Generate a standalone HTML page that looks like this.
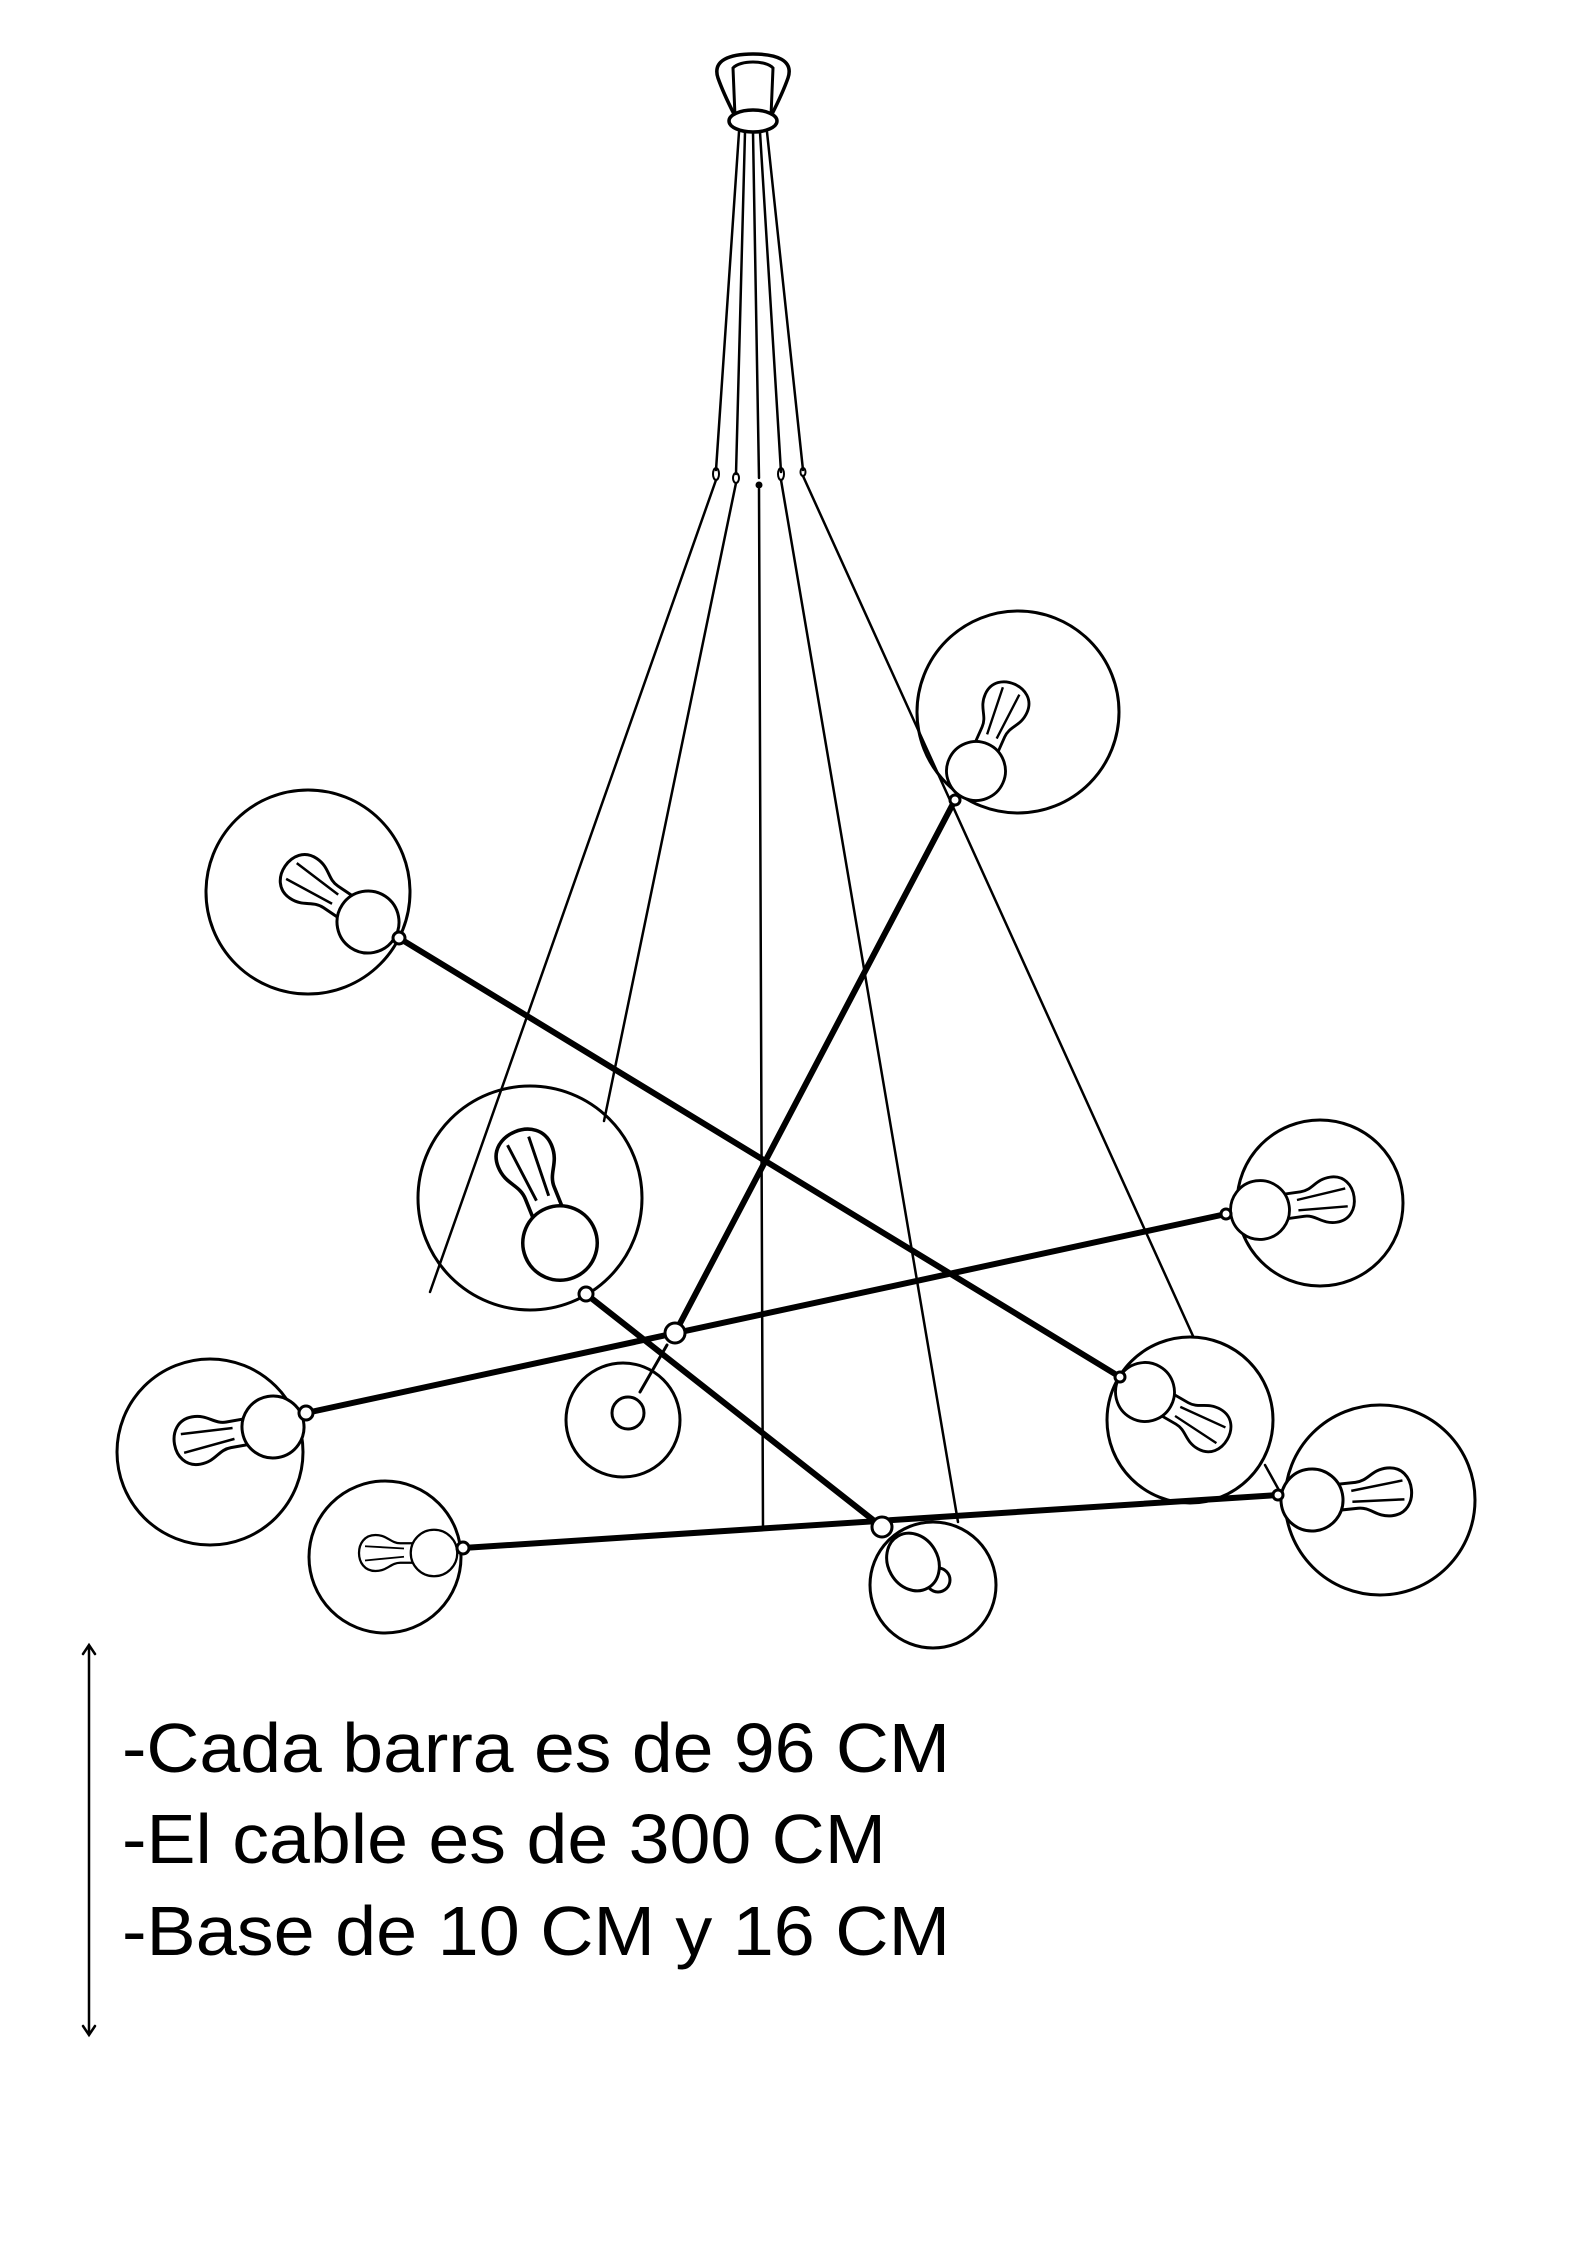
<!DOCTYPE html>
<html><head><meta charset="utf-8"><style>
html,body{margin:0;padding:0;background:#fff}
svg{display:block}
</style></head><body>
<svg width="1587" height="2245" viewBox="0 0 1587 2245" xmlns="http://www.w3.org/2000/svg">
<defs>
<g id="bulb">
<path d="M18,-13 L45,-13 C58,-13 62,-24 78,-24 C93,-24 100,-12 100,0 C100,12 93,24 78,24 C62,24 58,13 45,13 L18,13 Z" fill="#fff" stroke="#000" stroke-width="3"/>
<path d="M40,-5 L92,-10 M40,6 L92,9" fill="none" stroke="#000" stroke-width="2.5"/>
<circle cx="0" cy="0" r="31" fill="#fff" stroke="#000" stroke-width="3"/>
</g>
</defs>
<g fill="none" stroke="#000" stroke-linecap="round">
<!-- canopy -->
<path d="M718,78 C712,60 730,54 753,54 C776,54 794,60 788,78 C782,95 775,108 770,118 L736,118 C731,108 724,95 718,78 Z" stroke-width="3.5" fill="#fff"/>
<path d="M735,116 L733,68 C740,60 766,60 773,68 L771,116" stroke-width="3"/>
<ellipse cx="753" cy="121" rx="24" ry="11" stroke-width="3.5" fill="#fff"/>
<!-- upper cables -->
<path d="M739,132 L716,470 M745,132 L736,474 M753,132 L759,478 M760,132 L781,472 M767,132 L803,470" stroke-width="2.5"/>
<ellipse cx="716" cy="474" rx="3" ry="6" stroke-width="2"/>
<ellipse cx="736" cy="478" rx="3" ry="5" stroke-width="2"/>
<circle cx="759" cy="485" r="3" fill="#000" stroke-width="1"/>
<ellipse cx="781" cy="474" rx="3" ry="6" stroke-width="2"/>
<ellipse cx="803" cy="472" rx="2.5" ry="4" stroke-width="2"/>
<!-- lower cables -->
<path d="M716,480 L430,1292 M736,483 L604,1121 M759,489 L763,1530 M781,480 L958,1522 M803,476 L1193,1336 M1265,1465 L1280,1492" stroke-width="2.5"/>
<!-- globes -->
<circle cx="308" cy="892" r="102" stroke-width="3"/>
<circle cx="1018" cy="712" r="101" stroke-width="3"/>
<circle cx="530" cy="1198" r="112" stroke-width="3"/>
<circle cx="1320" cy="1203" r="83" stroke-width="3"/>
<circle cx="1190" cy="1420" r="83" stroke-width="3"/>
<circle cx="1380" cy="1500" r="95" stroke-width="3"/>
<circle cx="210" cy="1452" r="93" stroke-width="3"/>
<circle cx="623" cy="1420" r="57" stroke-width="3"/>
<circle cx="385" cy="1557" r="76" stroke-width="3"/>
<circle cx="933" cy="1585" r="63" stroke-width="3"/>
<!-- bars -->
<path d="M399,938 L1120,1377 M955,800 L675,1333 M306,1413 L1226,1214 M586,1294 L882,1527 M463,1548 L1278,1495" stroke-width="6"/>
<path d="M667,1345 L640,1392" stroke-width="3"/>
</g>
<!-- bulbs -->
<use href="#bulb" transform="translate(368,922) rotate(-146)"/>
<use href="#bulb" transform="translate(976,771) rotate(-66) scale(0.95)"/>
<use href="#bulb" transform="translate(560,1243) rotate(-112) scale(1.2)"/>
<use href="#bulb" transform="translate(1260,1210) rotate(-8) scale(0.95)"/>
<use href="#bulb" transform="translate(1145,1392) rotate(30) scale(0.95)"/>
<use href="#bulb" transform="translate(1312,1500) rotate(-6)"/>
<use href="#bulb" transform="translate(273,1427) rotate(170)"/>
<use href="#bulb" transform="translate(434,1553) rotate(180) scale(0.75)"/>
<g fill="#fff" stroke="#000" stroke-width="3">
<circle cx="628" cy="1413" r="16"/>
<circle cx="938" cy="1580" r="12"/>
<ellipse cx="913" cy="1562" rx="25" ry="30" transform="rotate(-30 913 1562)"/>
<!-- joints -->
<circle cx="399" cy="938" r="6"/>
<circle cx="306" cy="1413" r="7"/>
<circle cx="675" cy="1333" r="10"/>
<circle cx="882" cy="1527" r="10"/>
<circle cx="586" cy="1294" r="7"/>
<circle cx="463" cy="1548" r="6"/>
<circle cx="955" cy="800" r="5"/>
<circle cx="1226" cy="1214" r="5"/>
<circle cx="1120" cy="1377" r="5"/>
<circle cx="1278" cy="1495" r="5"/>
</g>
<!-- dimension arrow -->
<g stroke="#000" stroke-width="2.5" fill="none" stroke-linecap="round">
<path d="M89,1646 L89,2034 M83,1654 L89,1645 L95,1654 M83,2026 L89,2035 L95,2026"/>
</g>
<g font-family="'Liberation Sans', 'DejaVu Sans', sans-serif" font-size="70" fill="#000">
<text x="122" y="1772" textLength="828" lengthAdjust="spacingAndGlyphs">-Cada barra es de 96 CM</text>
<text x="122" y="1863" textLength="764" lengthAdjust="spacingAndGlyphs">-El cable es de 300 CM</text>
<text x="122" y="1955" textLength="828" lengthAdjust="spacingAndGlyphs">-Base de 10 CM y 16 CM</text>
</g>
</svg>
</body></html>
